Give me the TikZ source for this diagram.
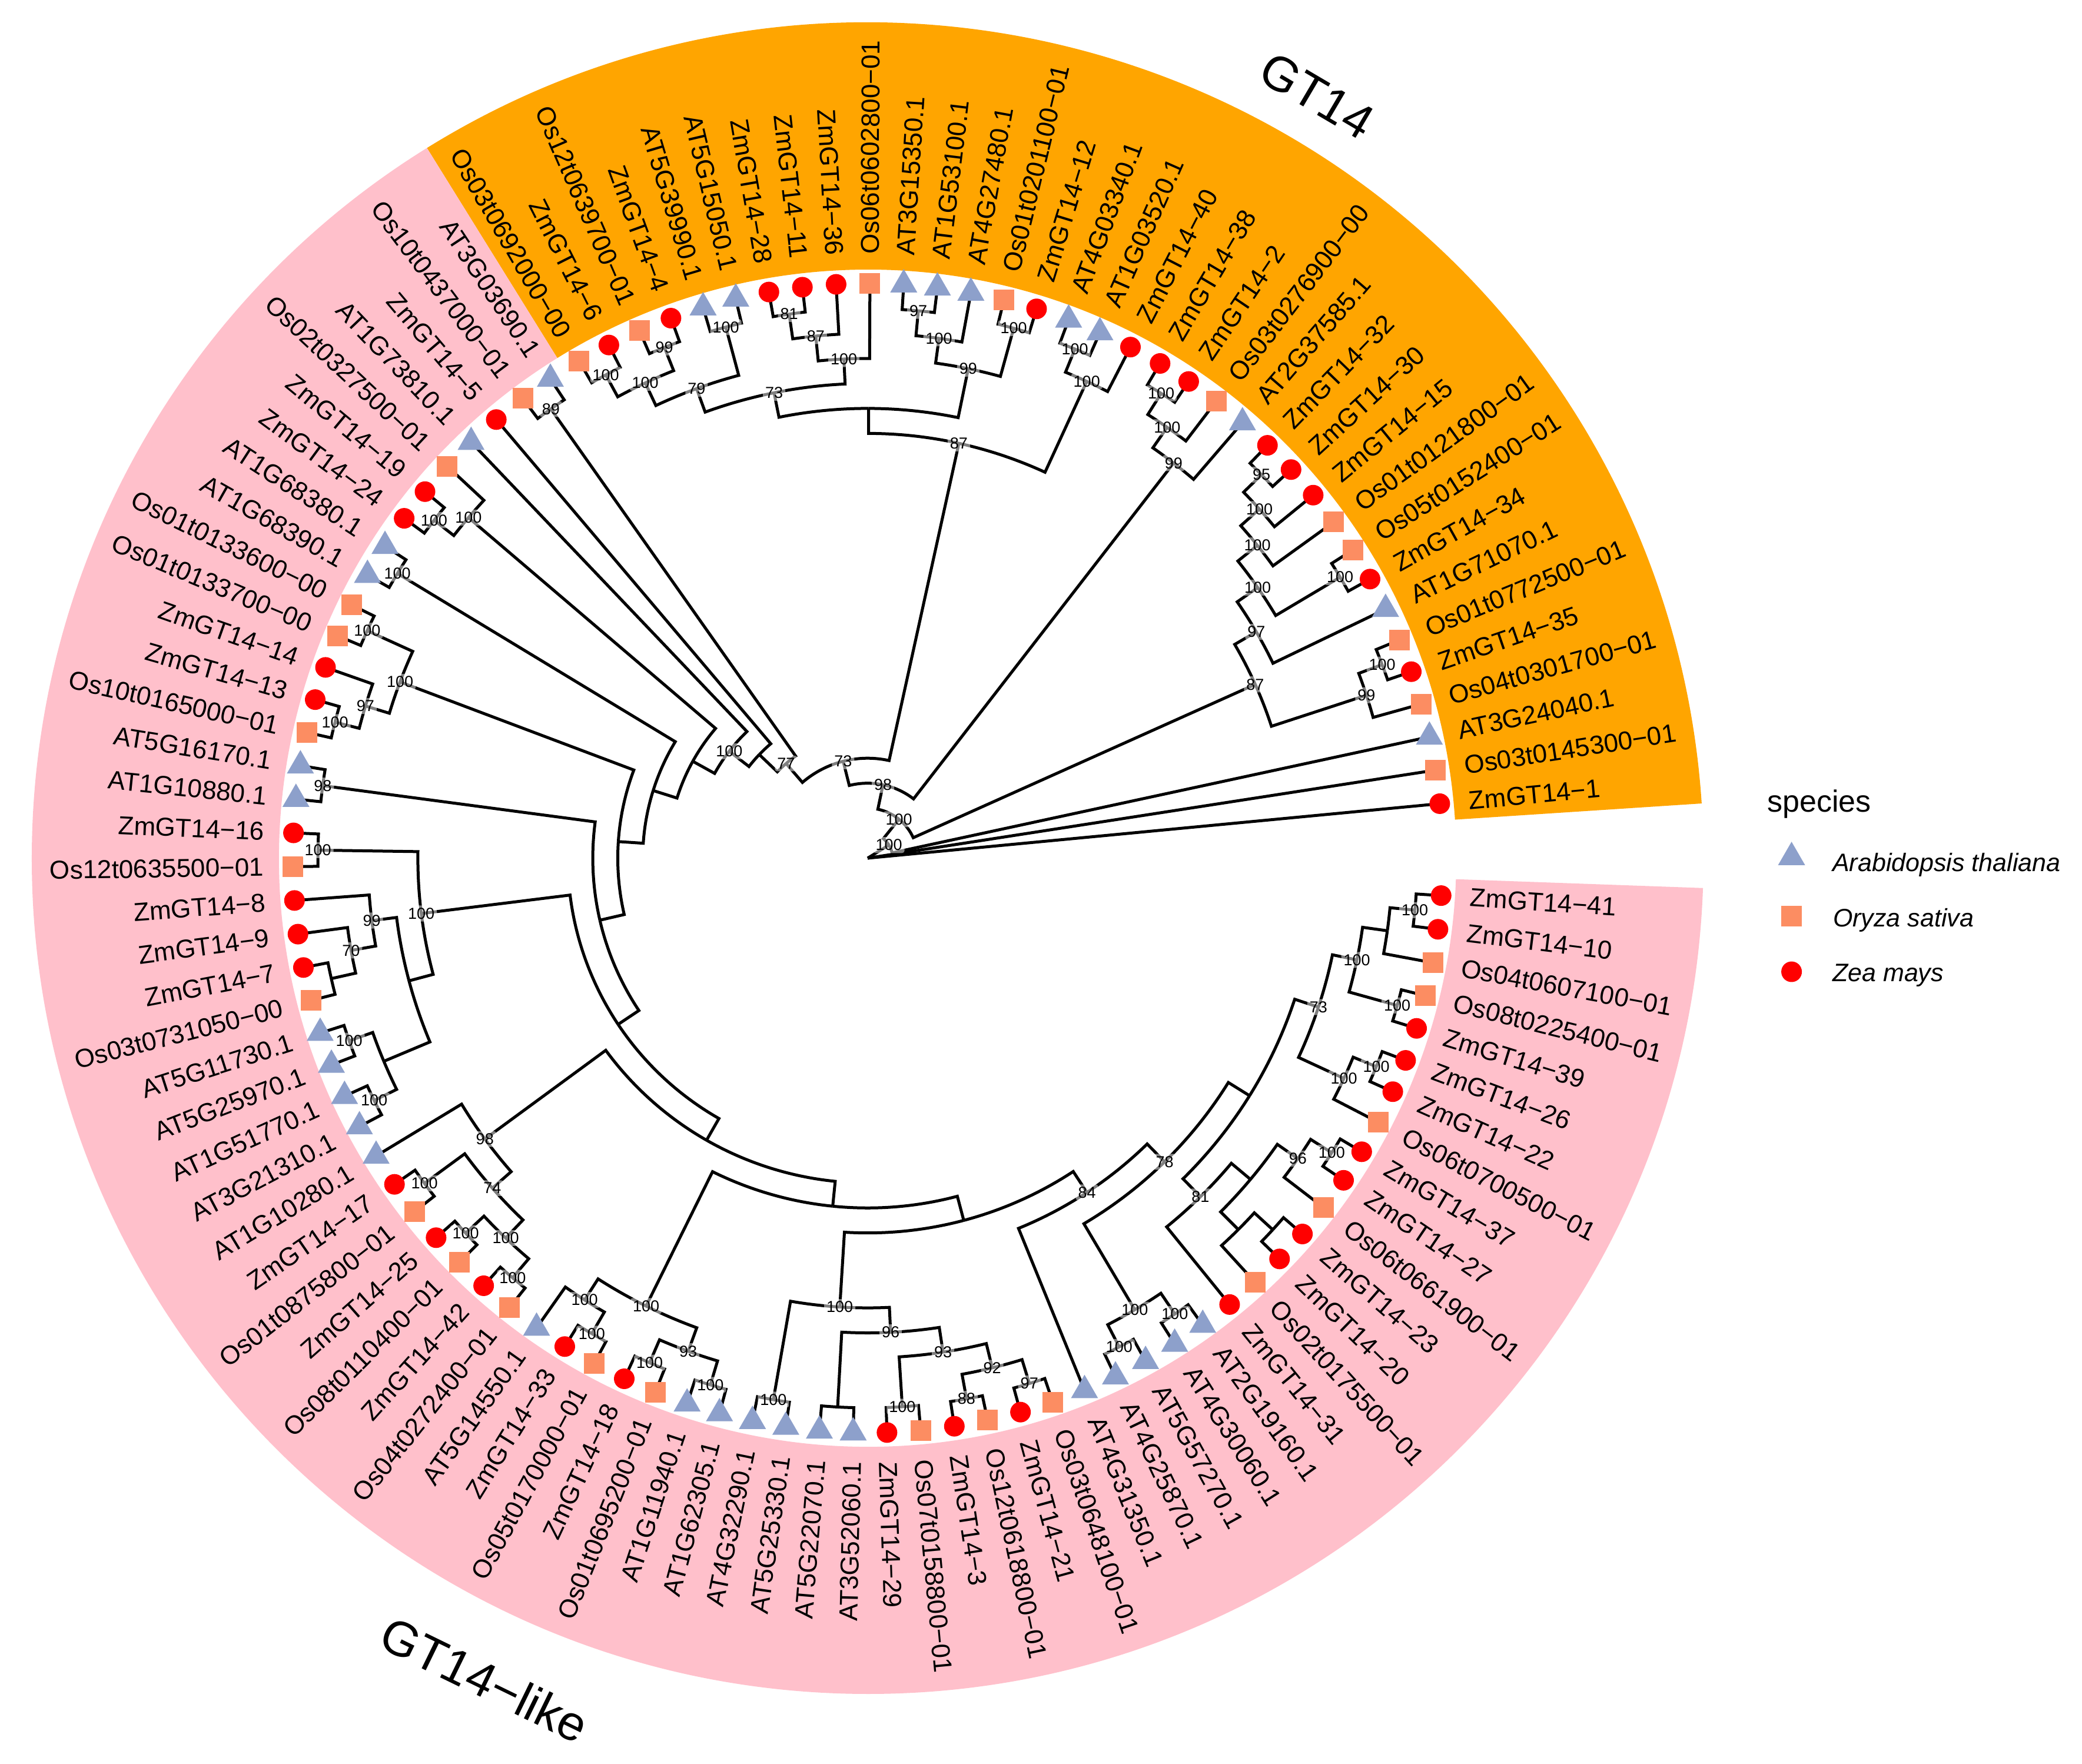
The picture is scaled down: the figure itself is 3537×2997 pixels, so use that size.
\documentclass[tikz,border=0pt]{standalone}
\usepackage{fontspec}
\setmainfont{Liberation Sans}
\usetikzlibrary{shapes.geometric}
\definecolor{atcol}{HTML}{8DA0CB}
\definecolor{oscol}{HTML}{FC8D62}
\definecolor{zmcol}{HTML}{FF0000}
\definecolor{gtorange}{HTML}{FFA500}
\definecolor{gtpink}{HTML}{FFC0CB}
\def\thA{5.44}
\def\dT{3.3733}
\def\treeU{42.45}
\def\tipR{976.4}
\def\labR{1026}
\newcommand\mknode[4]{%
  \edef\ca{\csname ang-#2\endcsname}%
  \edef\cb{\csname ang-#3\endcsname}%
  \pgfmathsetmacro\pa{(\ca+\cb)/2}%
  \pgfmathsetmacro\pr{#4*\treeU}%
  \expandafter\xdef\csname ang-#1\endcsname{\pa}%
  \coordinate (#1) at (\pa:\pr);%
  \draw[branch] (#1) arc[start angle=\pa, end angle=\ca, radius=\pr pt] -- (#2);%
  \draw[branch] (#1) arc[start angle=\pa, end angle=\cb, radius=\pr pt] -- (#3);%
}
\tikzset{
  branch/.style={line width=5pt, black},
  symZ/.style={circle, fill=zmcol, minimum size=35pt, inner sep=0pt},
  symO/.style={rectangle, fill=oscol, minimum size=35pt, inner sep=0pt},
  symA/.style={regular polygon, regular polygon sides=3, fill=atcol, minimum size=53pt, inner sep=0pt},
  tiplab/.style={font=\fontsize{44}{50}\selectfont, inner sep=0pt},
  bs/.style={font=\fontsize{27}{30}\selectfont, fill=white, fill opacity=0.5, text opacity=1, inner sep=4pt, rounded corners=4pt},
  clab/.style={font=\fontsize{83}{90}\selectfont},
  legtext/.style={font=\fontsize{43}{50}\selectfont\itshape, inner sep=0pt},
}
\begin{document}
\begin{tikzpicture}[x=1pt,y=1pt]
\fill[white] (-1474,-1539) rectangle (2063,1458);
\useasboundingbox (-1474,-1539) rectangle (2063,1458);
% highlight bands
\fill[gtorange] (3.753:1000) arc[start angle=3.753, end angle=121.82, radius=1000pt] -- (121.82:1420) arc[start angle=121.82, end angle=3.753, radius=1420pt] -- cycle;
\fill[gtpink] (121.82:1000) arc[start angle=121.82, end angle=357.95, radius=1000pt] -- (357.95:1420) arc[start angle=357.95, end angle=121.82, radius=1420pt] -- cycle;
% tip coordinates
\foreach \k in {1,...,105}{%
  \pgfmathsetmacro\ta{\thA+(\k-1)*\dT}%
  \expandafter\xdef\csname ang-t\k\endcsname{\ta}%
  \coordinate (t\k) at (\ta:\tipR);%
}
% internal nodes (children first)
\mknode{c5}{t5}{t6}{22}
\mknode{n4}{t4}{c5}{21}
\mknode{c12}{t12}{t13}{22}
\mknode{n11}{t11}{c12}{21}
\mknode{n10}{t10}{n11}{20}
\mknode{c8}{t8}{t9}{22}
\mknode{n8}{c8}{n10}{19}
\mknode{n7}{t7}{n8}{18}
\mknode{n4x}{n4}{n7}{17}
\mknode{c16}{t16}{t17}{22}
\mknode{n15}{t15}{c16}{21}
\mknode{n14}{t14}{n15}{20}
\mknode{c19}{t19}{t20}{22}
\mknode{n18}{t18}{c19}{21}
\mknode{c21}{t21}{t22}{22}
\mknode{c24}{t24}{t25}{22}
\mknode{n23}{t23}{c24}{21}
\mknode{n21}{c21}{n23}{20}
\mknode{c28}{t28}{t29}{22}
\mknode{n27}{t27}{c28}{21}
\mknode{n26}{t26}{n27}{20}
\mknode{c30}{t30}{t31}{22}
\mknode{c32}{t32}{t33}{22}
\mknode{c34}{t34}{t35}{22}
\mknode{n32}{c32}{c34}{21}
\mknode{n30}{c30}{n32}{20}
\mknode{n26x}{n26}{n30}{19}
\mknode{M}{n21}{n26x}{18}
\mknode{top87}{n18}{M}{17}
\mknode{c36}{t36}{t37}{22}
\mknode{c41}{t41}{t42}{22}
\mknode{n40}{t40}{c41}{21}
\mknode{c43}{t43}{t44}{22}
\mknode{c45}{t45}{t46}{22}
\mknode{c48}{t48}{t49}{22}
\mknode{n47}{t47}{c48}{21}
\mknode{n45}{c45}{n47}{20}
\mknode{c50}{t50}{t51}{22}
\mknode{c52}{t52}{t53}{22}
\mknode{c56}{t56}{t57}{22}
\mknode{n55}{t55}{c56}{21}
\mknode{n54}{t54}{n55}{20}
\mknode{c58}{t58}{t59}{22}
\mknode{c60}{t60}{t61}{22}
\mknode{n58}{c58}{c60}{21}
\mknode{P}{n54}{n58}{19}
\mknode{GP}{c52}{P}{18}
\mknode{c63}{t63}{t64}{22}
\mknode{c65}{t65}{t66}{22}
\mknode{c67}{t67}{t68}{22}
\mknode{n65}{c65}{c67}{21}
\mknode{n63}{c63}{n65}{20}
\mknode{Z98}{t62}{n63}{19}
\mknode{c70}{t70}{t71}{22}
\mknode{n69}{t69}{c70}{21}
\mknode{c72}{t72}{t73}{22}
\mknode{c74}{t74}{t75}{22}
\mknode{n72}{c72}{c74}{21}
\mknode{n69x}{n69}{n72}{20}
\mknode{c76}{t76}{t77}{22}
\mknode{c78}{t78}{t79}{22}
\mknode{c80}{t80}{t81}{22}
\mknode{c82}{t82}{t83}{22}
\mknode{c84}{t84}{t85}{22}
\mknode{n82}{c82}{c84}{21}
\mknode{n80}{c80}{n82}{20}
\mknode{n78}{c78}{n80}{19}
\mknode{n76}{c76}{n78}{18}
\mknode{c87}{t87}{t88}{22}
\mknode{c89}{t89}{t90}{22}
\mknode{n87}{c87}{c89}{21}
\mknode{c93}{t93}{t94}{22}
\mknode{L}{t92}{c93}{21}
\mknode{c96}{t96}{t97}{22}
\mknode{n95}{t95}{c96}{21}
\mknode{K}{L}{n95}{20}
\mknode{n91}{t91}{K}{19}
\mknode{c99}{t99}{t100}{22}
\mknode{n98}{t98}{c99}{21}
\mknode{c101}{t101}{t102}{22}
\mknode{c104}{t104}{t105}{22}
\mknode{n103}{t103}{c104}{21}
\mknode{n101}{c101}{n103}{20}
\mknode{n98x}{n98}{n101}{19}
\mknode{H}{n91}{n98x}{18}
\mknode{G78}{n87}{H}{17}
\mknode{D}{t86}{G78}{16}
\mknode{C15}{n76}{D}{15}
\mknode{B14}{n69x}{C15}{14}
\mknode{E13}{Z98}{B14}{13}
\mknode{V}{GP}{E13}{12}
\mknode{R}{c50}{V}{11}
\mknode{S}{n45}{R}{10}
\mknode{T}{c43}{S}{9}
\mknode{N8}{n40}{T}{8}
\mknode{N7}{t39}{N8}{7}
\mknode{N6}{t38}{N7}{6}
\mknode{N5}{c36}{N6}{5}
\mknode{N4}{top87}{N5}{4}
\mknode{N3}{n14}{N4}{3}
\mknode{N2}{n4x}{N3}{2}
\mknode{N1}{t3}{N2}{1}
\coordinate (root) at (0,0);
\draw[branch] (root) -- (t1);
\draw[branch] (root) -- (t2);
\draw[branch] (root) -- (N1);
% tip symbols and labels
\foreach \k/\spc/\lab in {1/Z/ZmGT14−1,2/O/Os03t0145300−01,3/A/AT3G24040.1,4/O/Os04t0301700−01,5/Z/ZmGT14−35,6/O/Os01t0772500−01,7/A/AT1G71070.1,8/Z/ZmGT14−34,9/O/Os05t0152400−01,10/O/Os01t0121800−01,11/Z/ZmGT14−15,12/Z/ZmGT14−30,13/Z/ZmGT14−32,14/A/AT2G37585.1,15/O/Os03t0276900−00,16/Z/ZmGT14−2,17/Z/ZmGT14−38,18/Z/ZmGT14−40,19/A/AT1G03520.1,20/A/AT4G03340.1,21/Z/ZmGT14−12,22/O/Os01t0201100−01,23/A/AT4G27480.1,24/A/AT1G53100.1,25/A/AT3G15350.1,26/O/Os06t0602800−01,27/Z/ZmGT14−36,28/Z/ZmGT14−11,29/Z/ZmGT14−28,30/A/AT5G15050.1,31/A/AT5G39990.1,32/Z/ZmGT14−4,33/O/Os12t0639700−01,34/Z/ZmGT14−6,35/O/Os03t0692000−00,36/A/AT3G03690.1,37/O/Os10t0437000−01,38/Z/ZmGT14−5,39/A/AT1G73810.1,40/O/Os02t0327500−01,41/Z/ZmGT14−19,42/Z/ZmGT14−24,43/A/AT1G68380.1,44/A/AT1G68390.1,45/O/Os01t0133600−00,46/O/Os01t0133700−00,47/Z/ZmGT14−14,48/Z/ZmGT14−13,49/O/Os10t0165000−01,50/A/AT5G16170.1,51/A/AT1G10880.1,52/Z/ZmGT14−16,53/O/Os12t0635500−01,54/Z/ZmGT14−8,55/Z/ZmGT14−9,56/Z/ZmGT14−7,57/O/Os03t0731050−00,58/A/AT5G11730.1,59/A/AT5G25970.1,60/A/AT1G51770.1,61/A/AT3G21310.1,62/A/AT1G10280.1,63/Z/ZmGT14−17,64/O/Os01t0875800−01,65/Z/ZmGT14−25,66/O/Os08t0110400−01,67/Z/ZmGT14−42,68/O/Os04t0272400−01,69/A/AT5G14550.1,70/Z/ZmGT14−33,71/O/Os05t0170000−01,72/Z/ZmGT14−18,73/O/Os01t0695200−01,74/A/AT1G11940.1,75/A/AT1G62305.1,76/A/AT4G32290.1,77/A/AT5G25330.1,78/A/AT5G22070.1,79/A/AT3G52060.1,80/Z/ZmGT14−29,81/O/Os07t0158800−01,82/Z/ZmGT14−3,83/O/Os12t0618800−01,84/Z/ZmGT14−21,85/O/Os03t0648100−01,86/A/AT4G31350.1,87/A/AT4G25870.1,88/A/AT5G57270.1,89/A/AT4G30060.1,90/A/AT2G19160.1,91/Z/ZmGT14−31,92/O/Os02t0175500−01,93/Z/ZmGT14−20,94/Z/ZmGT14−23,95/O/Os06t0661900−01,96/Z/ZmGT14−27,97/Z/ZmGT14−37,98/O/Os06t0700500−01,99/Z/ZmGT14−22,100/Z/ZmGT14−26,101/Z/ZmGT14−39,102/O/Os08t0225400−01,103/O/Os04t0607100−01,104/Z/ZmGT14−10,105/Z/ZmGT14−41}{%
  \pgfmathsetmacro\ta{\thA+(\k-1)*\dT}%
  \if\spc Z\node[symZ] (s\k) at (t\k) {};\fi
  \if\spc O\node[symO] (s\k) at (t\k) {};\fi
  \if\spc A\node[symA] (s\k) at (t\k) {};\fi
  \pgfmathtruncatemacro\flip{and(\ta>90,\ta<270)}%
  \ifnum\flip=1
    \pgfmathsetmacro\rot{\ta-180}%
    \node[tiplab, rotate=\rot, anchor=east] (l\k) at (\ta:\labR) {\lab};
  \else
    \node[tiplab, rotate=\ta, anchor=west] (l\k) at (\ta:\labR) {\lab};
  \fi
}
% bootstrap values
\foreach \n/\v in {N1/100,N2/100,N3/98,N4/73,N5/77,N7/100,
  n4x/87,n4/99,c5/100,n7/97,n8/100,c8/100,n10/100,n11/100,c12/95,
  n14/99,n15/100,c16/100,top87/87,n18/100,c19/100,
  n21/99,c21/100,n23/100,c24/97,
  n26x/73,n26/100,n27/87,c28/81,n30/79,c30/100,n32/100,c32/99,c34/100,
  c36/89,n40/100,c41/100,c43/100,c45/100,n45/100,n47/97,c48/100,c50/98,c52/100,
  GP/100,n54/99,n55/70,c58/100,c60/100,
  Z98/98,n63/74,c63/100,n65/100,c65/100,c67/100,
  n69x/100,n69/100,c70/100,n72/93,c72/100,c74/100,
  n76/100,c76/100,n78/96,n80/93,c80/100,n82/92,c82/88,c84/97,
  D/84,G78/78,n87/100,c87/100,c89/100,
  n91/81,n95/96,c96/100,
  n98x/73,n98/100,c99/100,n101/100,c101/100,c104/100}{%
  \node[bs] (b-\n) at (\n) {\v};
}
% clade labels
\node[clab, rotate=-30.5] (gt14) at (59.5:1504) {GT14};
\node[clab, rotate=-26] (gt14like) at (245:1540) {GT14−like};
% legend
\node[anchor=base west, inner sep=0pt, font=\fontsize{52}{60}\selectfont] (legtitle) at (1528,78) {species};
\node[symA] (legA) at (1569.6,1.4) {};
\node[symO] (legO) at (1569.6,-99) {};
\node[symZ] (legZ) at (1569.6,-193) {};
\node[legtext, anchor=base west] (legAt) at (1639,-23) {Arabidopsis thaliana};
\node[legtext, anchor=base west] (legOt) at (1640,-116.5) {Oryza sativa};
\node[legtext, anchor=base west] (legZt) at (1639,-210) {Zea mays};
\end{tikzpicture}
\end{document}
